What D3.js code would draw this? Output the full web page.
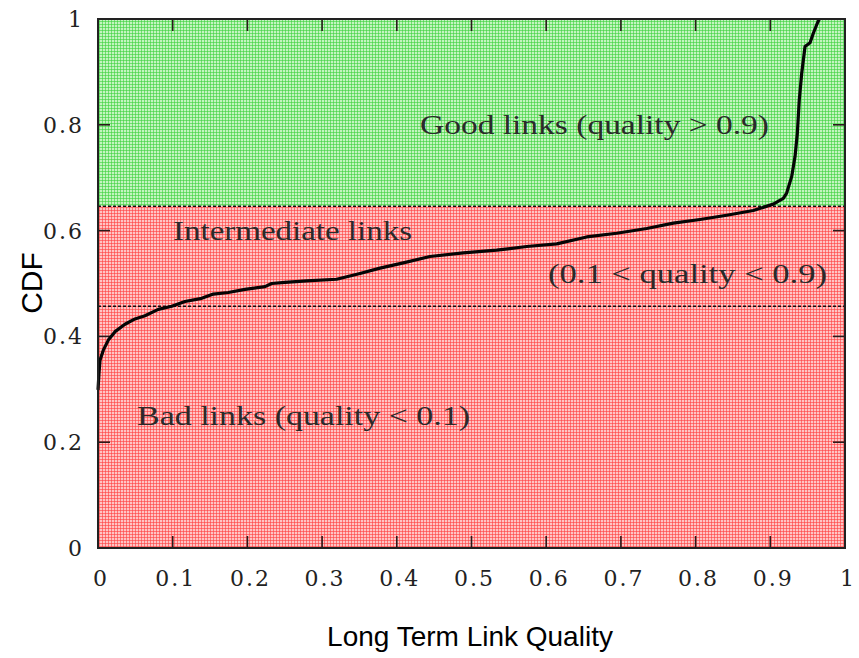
<!DOCTYPE html>
<html>
<head>
<meta charset="utf-8">
<script src="https://cdn.jsdelivr.net/npm/d3@7"></script>
<style>
  html, body { margin: 0; padding: 0; background: #fff; }
  svg { display: block; }
</style>
</head>
<body>
<svg id="chart" width="859" height="658"></svg>
<script>
// Empirical CDF of long term link quality
const quality = [0, 0.0013, 0.0027, 0.0071, 0.0138, 0.0228, 0.0361, 0.0495, 0.0629, 0.0807,
  0.0987, 0.1165, 0.1388, 0.1544, 0.1744, 0.1968, 0.2236, 0.2325, 0.2503, 0.2794,
  0.3195, 0.3507, 0.3775, 0.4087, 0.4444, 0.4890, 0.5337, 0.5739, 0.6141, 0.6542,
  0.6944, 0.7345, 0.7702, 0.8059, 0.8416, 0.8772, 0.9040, 0.9174, 0.9219, 0.9286,
  0.9331, 0.9362, 0.9388, 0.9420, 0.9465, 0.9532, 0.9576, 0.9629, 0.9656];
const cdf = [0.299, 0.330, 0.355, 0.374, 0.393, 0.409, 0.423, 0.433, 0.439, 0.451,
  0.457, 0.466, 0.472, 0.480, 0.483, 0.489, 0.494, 0.500, 0.502, 0.505,
  0.508, 0.519, 0.529, 0.539, 0.551, 0.558, 0.563, 0.570, 0.575, 0.588,
  0.595, 0.604, 0.614, 0.621, 0.629, 0.638, 0.650, 0.661, 0.671, 0.702,
  0.740, 0.784, 0.847, 0.897, 0.948, 0.955, 0.973, 0.992, 1.0];

// CDF levels at quality 0.1 and 0.9 separating the link classes
const badLevel = 0.457;
const goodLevel = 0.646;

const xTicks = [0, 0.1, 0.2, 0.3, 0.4, 0.5, 0.6, 0.7, 0.8, 0.9, 1];
const yTicks = [0, 0.2, 0.4, 0.6, 0.8, 1];

const svg = d3.select("#chart");
const x = d3.scaleLinear().domain([0, 1]).range([98, 845]);
const y = d3.scaleLinear().domain([0, 1]).range([548, 19]);

// Fine plaid fills for the regions
const defs = svg.append("defs");
function plaid(id, base, line) {
  const p = defs.append("pattern").attr("id", id)
    .attr("patternUnits", "userSpaceOnUse").attr("width", 3).attr("height", 3);
  p.append("rect").attr("width", 3).attr("height", 3).attr("fill", base);
  p.append("rect").attr("width", 1).attr("height", 3).attr("fill", line).attr("opacity", 0.6);
  p.append("rect").attr("width", 3).attr("height", 1).attr("fill", line).attr("opacity", 0.6);
}
plaid("greenPlaid", "#c4f4c0", "#3cd03c");
plaid("redPlaid", "#ffc4c4", "#ff4040");

svg.append("rect")
  .attr("x", x(0)).attr("y", y(1))
  .attr("width", x(1) - x(0)).attr("height", y(goodLevel) - y(1))
  .attr("fill", "url(#greenPlaid)");
svg.append("rect")
  .attr("x", x(0)).attr("y", y(goodLevel))
  .attr("width", x(1) - x(0)).attr("height", y(0) - y(goodLevel))
  .attr("fill", "url(#redPlaid)");

// Dashed class boundaries
[badLevel, goodLevel].forEach(v => {
  svg.append("line")
    .attr("x1", x(0)).attr("x2", x(1))
    .attr("y1", y(v)).attr("y2", y(v))
    .attr("stroke", "#111").attr("stroke-width", 1.4)
    .attr("stroke-dasharray", "3,2");
});

// Inward ticks on all four sides
const tickLen = 12;
const tickG = svg.append("g").attr("stroke", "#2a1a1a").attr("stroke-width", 1.6);
xTicks.slice(1, -1).forEach(t => {
  tickG.append("line").attr("x1", x(t)).attr("x2", x(t)).attr("y1", y(0)).attr("y2", y(0) - tickLen);
  tickG.append("line").attr("x1", x(t)).attr("x2", x(t)).attr("y1", y(1)).attr("y2", y(1) + tickLen);
});
yTicks.slice(1, -1).forEach(t => {
  tickG.append("line").attr("x1", x(0)).attr("x2", x(0) + tickLen).attr("y1", y(t)).attr("y2", y(t));
  tickG.append("line").attr("x1", x(1)).attr("x2", x(1) - tickLen).attr("y1", y(t)).attr("y2", y(t));
});

// CDF curve
const line = d3.line().x((d, i) => x(quality[i])).y(d => y(d)).curve(d3.curveLinear);
svg.append("path")
  .datum(cdf)
  .attr("d", line)
  .attr("fill", "none")
  .attr("stroke", "#050505")
  .attr("stroke-width", 3.2)
  .attr("stroke-linejoin", "round");

// Frame
svg.append("rect")
  .attr("x", x(0)).attr("y", y(1))
  .attr("width", x(1) - x(0)).attr("height", y(0) - y(1))
  .attr("fill", "none").attr("stroke", "#222").attr("stroke-width", 2);

// Tick labels
const serif = "'DejaVu Serif', 'Liberation Serif', serif";
svg.append("g").selectAll("text").data(yTicks).join("text")
  .attr("x", 84).attr("y", d => y(d) + 8)
  .attr("text-anchor", "end")
  .attr("font-family", serif).attr("font-size", 22)
  .attr("letter-spacing", 2)
  .attr("fill", "#222")
  .text(d => d3.format("~g")(d));
svg.append("g").selectAll("text").data(xTicks).join("text")
  .attr("x", d => x(d) + 3).attr("y", 586)
  .attr("text-anchor", "middle")
  .attr("font-family", serif).attr("font-size", 22)
  .attr("letter-spacing", 2)
  .attr("fill", "#222")
  .text(d => d3.format("~g")(d));

// Region annotations
const notes = [
  { text: "Good links (quality > 0.9)", x: 420, y: 134, w: 349 },
  { text: "Intermediate links", x: 173, y: 240, w: 239 },
  { text: "(0.1 < quality < 0.9)", x: 548, y: 283, w: 279 },
  { text: "Bad links (quality < 0.1)", x: 137, y: 425, w: 333 }
];
svg.append("g").selectAll("text").data(notes).join("text")
  .attr("x", d => d.x).attr("y", d => d.y)
  .attr("textLength", d => d.w).attr("lengthAdjust", "spacingAndGlyphs")
  .attr("font-family", "'Liberation Serif', serif").attr("font-size", 28)
  .attr("fill", "#2a2a2a")
  .text(d => d.text);

// Axis titles
const sans = "'Liberation Sans', Arial, sans-serif";
svg.append("text")
  .attr("x", 470).attr("y", 646)
  .attr("text-anchor", "middle")
  .attr("font-family", sans).attr("font-size", 28)
  .attr("fill", "#000")
  .text("Long Term Link Quality");
svg.append("text")
  .attr("transform", "translate(42,283) rotate(-90)")
  .attr("text-anchor", "middle")
  .attr("font-family", sans).attr("font-size", 30)
  .attr("fill", "#000")
  .text("CDF");
</script>
</body>
</html>
